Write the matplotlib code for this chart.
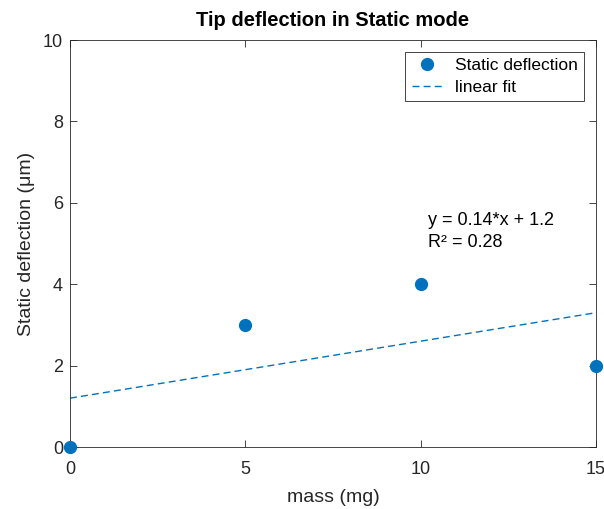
import matplotlib.pyplot as plt
import numpy as np

plt.rcParams['font.family'] = ['Liberation Sans', 'DejaVu Sans']

mass = [0, 5, 10, 15]
deflection = [0, 3, 4, 2]

# linear fit
slope, intercept = np.polyfit(mass, deflection, 1)
pred = np.polyval([slope, intercept], mass)
r2 = 1 - np.sum((np.array(deflection) - pred) ** 2) / np.sum((np.array(deflection) - np.mean(deflection)) ** 2)
fit_x = [0, 15]
fit_y = [slope * x + intercept for x in fit_x]

fig = plt.figure(figsize=(6.04, 5.09), dpi=100)
ax = fig.add_axes([0.1159, 0.1218, 0.8709, 0.7996])

blue = '#0072BD'
ax.plot(mass, deflection, 'o', color=blue, markersize=8.5, label='Static deflection',
        clip_on=False, zorder=3)
ax.plot(fit_x, fit_y, '--', color=blue, linewidth=1.0, dashes=(5, 3), label='linear fit')

ax.text(10.2, 5.3, 'y = %.2g*x + %.2g\nR\u00b2 = %.2f' % (slope, intercept, r2),
        fontsize=13, va='center', ha='left', linespacing=1.4, color='black')

ax.set_xlim(0, 15)
ax.set_ylim(0, 10)
ax.set_xticks([0, 5, 10, 15])
ax.set_yticks([0, 2, 4, 6, 8, 10])

gray = '#262626'
for s in ax.spines.values():
    s.set_color('#262626')
    s.set_linewidth(0.6)
ax.tick_params(direction='in', top=True, right=True, labelsize=13,
               colors=gray, length=5, width=0.6, pad=5)
ax.tick_params(axis='x', pad=10)

ax.set_xlabel('mass (mg)', fontsize=14, color=gray, labelpad=8)
ax.set_ylabel('Static deflection (\u03bcm)', fontsize=14, color=gray, labelpad=6)
ax.set_title('Tip deflection in Static mode', fontsize=14.5, fontweight='bold', pad=10)

leg = ax.legend(loc='upper right', fontsize=12.5, fancybox=False, framealpha=1,
                edgecolor=gray, borderaxespad=0.7, handlelength=1.8, handletextpad=0.7,
                borderpad=0.35, labelspacing=0.35)
leg.get_frame().set_linewidth(0.6)

fig.savefig('out.png', dpi=100)
